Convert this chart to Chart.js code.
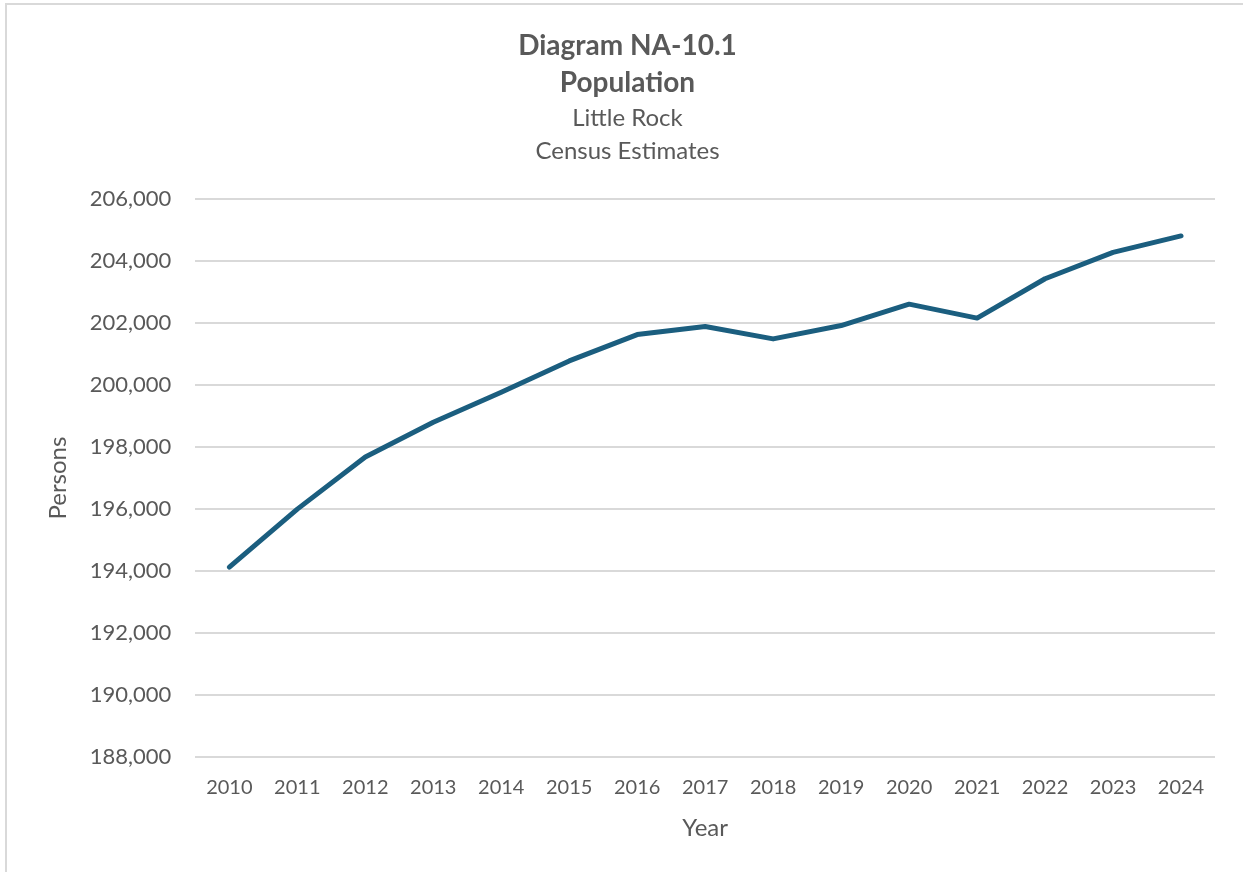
<!DOCTYPE html>
<html lang="en">
  <head>
    <meta charset="UTF-8" />
    <title>Diagram NA-10.1 Population</title>
    <script src="https://cdn.jsdelivr.net/npm/chart.js"></script>
    <style>
      html, body {
        margin: 0;
        padding: 0;
        background: #fff;
        overflow: hidden;
      }
      .frame {
        position: absolute;
        left: 5px;
        top: 3px;
        width: 1238px;
        height: 869px;
        border-top: 2px solid #d9d9d9;
        border-left: 2px solid #d9d9d9;
      }
      .chart-box {
        position: absolute;
        left: 0;
        top: 0;
        width: 1243px;
        height: 872px;
      }
    </style>
  </head>
  <body>
    <div class="frame"></div>
    <div class="chart-box">
      <canvas id="popChart"></canvas>
    </div>

    <script>
      const years = ["2010", "2011", "2012", "2013", "2014", "2015", "2016", "2017",
                     "2018", "2019", "2020", "2021", "2022", "2023", "2024"];
      const population = [194130, 196000, 197680, 198800, 199770, 200780, 201630, 201890,
                          201490, 201920, 202610, 202160, 203430, 204280, 204810];
      const yMin = 188000;
      const yMax = 206000;
      const yStep = 2000;

      const textColor = "#595959";
      const fontFamily = "Lato, 'Open Sans', sans-serif";

      new Chart(document.getElementById("popChart"), {
        type: "line",
        data: {
          labels: years,
          datasets: [{
            label: "Population",
            data: population,
            borderColor: "#1b5e7f",
            borderWidth: 5,
            pointRadius: 0,
            tension: 0,
            fill: false,
            borderCapStyle: "round",
            borderJoinStyle: "round"
          }]
        },
        options: {
          responsive: true,
          maintainAspectRatio: false,
          animation: false,
          layout: {
            padding: { left: 40, right: 28, top: 27, bottom: 29 }
          },
          plugins: {
            legend: { display: false },
            tooltip: { enabled: false },
            title: {
              display: true,
              text: ["Diagram NA-10.1", "Population"],
              color: textColor,
              font: { family: fontFamily, size: 28, weight: "bold", lineHeight: 1.34 },
              padding: { top: 0, bottom: 0 }
            },
            subtitle: {
              display: true,
              text: ["Little Rock", "Census Estimates"],
              color: textColor,
              font: { family: fontFamily, size: 24, lineHeight: 1.375 },
              padding: { top: 0, bottom: 31 }
            }
          },
          scales: {
            x: {
              offset: true,
              grid: { display: false, drawTicks: false },
              border: { display: false },
              ticks: {
                color: textColor,
                font: { family: fontFamily, size: 20 },
                padding: 18,
                maxRotation: 0
              },
              title: {
                display: true,
                text: "Year",
                color: textColor,
                font: { family: fontFamily, size: 24 },
                padding: { top: -3, bottom: 0 }
              }
            },
            y: {
              min: yMin,
              max: yMax,
              grid: { color: "#d9d9d9", lineWidth: 2, drawTicks: false },
              border: { display: false },
              ticks: {
                stepSize: yStep,
                color: textColor,
                font: { family: fontFamily, size: 22 },
                padding: 24,
                callback: v => v.toLocaleString("en-US")
              },
              title: {
                display: true,
                text: "Persons",
                color: textColor,
                font: { family: fontFamily, size: 24 },
                padding: { top: 4, bottom: -7 }
              }
            }
          }
        }
      });
    </script>
  </body>
</html>
